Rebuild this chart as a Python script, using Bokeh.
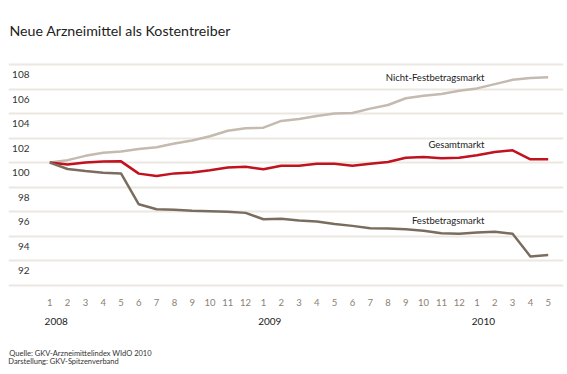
from bokeh.plotting import figure
from bokeh.models import FixedTicker, LinearAxis, Range1d
from bokeh.core.properties import value
from bokeh.embed import file_html
from bokeh.resources import INLINE

# ---- data ----
month_labels = ["1", "2", "3", "4", "5", "6", "7", "8", "9", "10", "11", "12",
                "1", "2", "3", "4", "5", "6", "7", "8", "9", "10", "11", "12",
                "1", "2", "3", "4", "5"]
years = ["2008", "2009", "2010"]
year_start = [0, 12, 24]
nicht_festbetrag = [100.0, 100.2, 100.55, 100.8, 100.9, 101.1, 101.25, 101.55, 101.8, 102.15,
                    102.6, 102.8, 102.85, 103.4, 103.55, 103.8, 104.0, 104.05, 104.4, 104.7,
                    105.25, 105.45, 105.6, 105.85, 106.05, 106.4, 106.75, 106.9, 106.95]
gesamt = [100.0, 99.85, 100.0, 100.08, 100.1, 99.1, 98.9, 99.12, 99.2, 99.37,
          99.6, 99.67, 99.45, 99.75, 99.75, 99.9, 99.9, 99.75, 99.9, 100.05,
          100.4, 100.45, 100.35, 100.4, 100.6, 100.87, 101.0, 100.27, 100.27]
festbetrag = [100.0, 99.48, 99.31, 99.18, 99.12, 96.6, 96.2, 96.15, 96.07, 96.03,
              96.0, 95.9, 95.38, 95.43, 95.27, 95.2, 95.0, 94.84, 94.64, 94.62,
              94.56, 94.45, 94.23, 94.2, 94.29, 94.37, 94.2, 92.35, 92.46]
y_tick_labels = ["92", "94", "96", "98", "100", "102", "104", "106", "108"]
y_ticks = [92, 94, 96, 98, 100, 102, 104, 106, 108]
grid_values = [90, 92, 94, 96, 98, 100, 102, 104, 106, 108]
series_names = ["Nicht-Festbetragsmarkt", "Gesamtmarkt", "Festbetragsmarkt"]
footer_lines = ["Quelle: GKV-Arzneimittelindex WIdO 2010", "Darstellung: GKV-Spitzenverband"]

x = list(range(len(month_labels)))

# ---- layout helpers ----
W, H = 567, 374
frame_left, frame_right = 8, 563
frame_top, frame_bottom = 44, 290
px_per_month = 17.8
first_px = 49.3
x_start = -(first_px - frame_left) / px_per_month
x_end = (frame_right - first_px) / px_per_month

FONT = "Lato"


def bare_axis(ax, standoff, size, color):
    ax.axis_line_color = None
    ax.major_tick_line_color = None
    ax.minor_tick_line_color = None
    ax.major_tick_out = 0
    ax.major_tick_in = 0
    ax.major_label_standoff = standoff
    ax.major_label_text_font = FONT
    ax.major_label_text_font_size = size
    ax.major_label_text_color = color


p = figure(width=W, height=H, output_backend="svg", toolbar_location=None,
           x_range=Range1d(x_start, x_end), y_range=Range1d(89.57, 109.63),
           y_axis_location=None, x_axis_location="below",
           min_border_left=frame_left, min_border_right=W - frame_right,
           min_border_top=frame_top, min_border_bottom=H - frame_bottom)
p.outline_line_color = None
p.background_fill_color = "white"
p.border_fill_color = "white"

p.title.text = "Neue Arzneimittel als Kostentreiber"
p.title.text_font = FONT
p.title.text_font_size = "14.2px"
p.title.text_font_style = "normal"
p.title.text_color = "#222222"
p.title.align = "left"
p.title.offset = 1
p.title.standoff = 12

p.xgrid.visible = False
p.ygrid.ticker = FixedTicker(ticks=grid_values)
p.ygrid.grid_line_color = "#ece7e0"
p.ygrid.grid_line_width = 2

# month axis
ax = p.xaxis[0]
ax.ticker = FixedTicker(ticks=x)
ax.major_label_overrides = {i: lab for i, lab in zip(x, month_labels)}
bare_axis(ax, 8, "9.5px", "#8c8072")

# year axis
yr_ticks = [s + 0.36 for s in year_start]
yax = LinearAxis(ticker=FixedTicker(ticks=yr_ticks),
                 major_label_overrides={t: y for t, y in zip(yr_ticks, years)})
bare_axis(yax, 9, "10px", "#222222")
p.add_layout(yax, "below")

# footer lines (centred single-tick axes whose left edges sit at the frame edge)
for line, center_px, standoff in zip(footer_lines, [80.0, 63.0], [21, -4]):
    t = (center_px - first_px) / px_per_month
    fax = LinearAxis(ticker=FixedTicker(ticks=[t]), major_label_overrides={t: line})
    bare_axis(fax, standoff, "7.5px", "#333333")
    p.add_layout(fax, "below")

# y tick labels (offset below their gridline, as in the original)
p.text(x=[x_start] * len(y_ticks), y=y_ticks, text=y_tick_labels,
       x_offset=21, y_offset=10, text_align="right", text_baseline="middle",
       text_font=value(FONT), text_font_size="10px", text_color="#333333")

colors = ["#c5bab0", "#c0121f", "#7a6d5f"]
for ser, col in zip([nicht_festbetrag, gesamt, festbetrag], colors):
    p.line(x, ser, line_color=col, line_width=2.5, line_join="round")

# series labels anchored at the 24th month
anchor = 23
p.text(x=[anchor] * 3,
       y=[nicht_festbetrag[anchor], gesamt[anchor], festbetrag[anchor]],
       text=series_names, x_offset=25.3, y_offset=-13.6,
       text_align="right", text_baseline="middle",
       text_font=value(FONT), text_font_size="9.5px", text_color="#222222")

open("out.html", "w").write(file_html(p, INLINE))
